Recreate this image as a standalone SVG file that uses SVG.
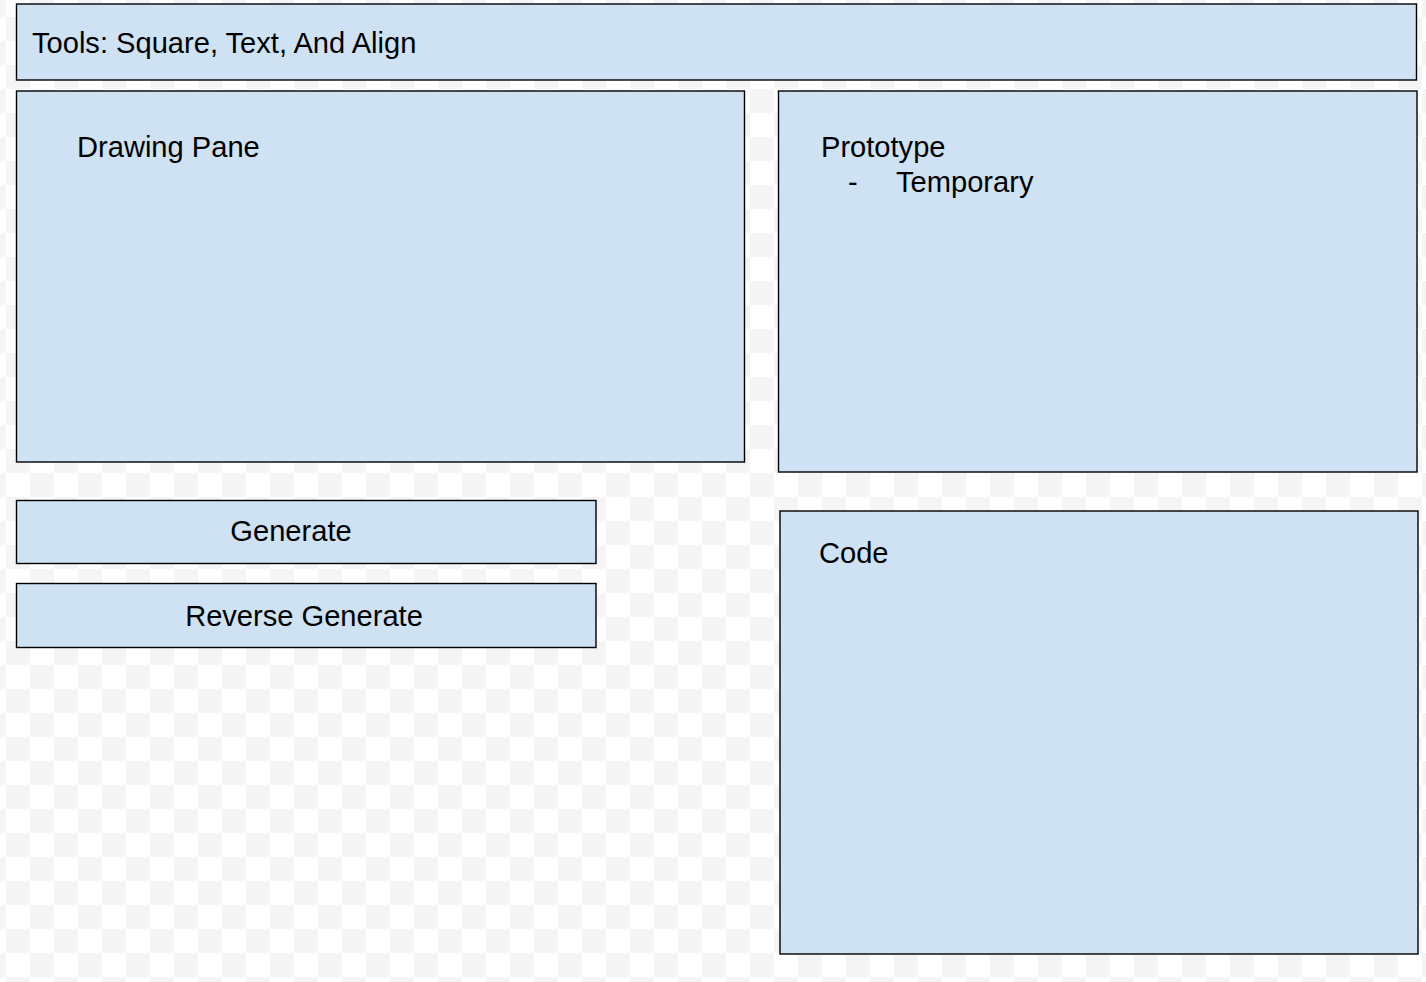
<svg xmlns="http://www.w3.org/2000/svg" width="1426" height="982" viewBox="0 0 1426 982">
  <defs>
    <pattern id="checker" x="6" y="17" width="48" height="48" patternUnits="userSpaceOnUse">
      <rect x="0" y="0" width="48" height="48" fill="#ffffff"/>
      <rect x="0" y="0" width="24" height="24" fill="#f5f5f5"/>
      <rect x="24" y="24" width="24" height="24" fill="#f5f5f5"/>
    </pattern>
  </defs>
  <style>
    .box { fill: #cfe2f3; stroke: #000000; stroke-width: 1.4; }
    .lbl { font-family: "Liberation Sans", Arial, sans-serif; font-size: 29.1px; fill: #000000; }
  </style>
  <rect x="0" y="0" width="1426" height="982" fill="url(#checker)"/>

  <g id="tools">
    <rect class="box" x="16.5" y="4" width="1400" height="76"/>
    <text class="lbl" x="32" y="53">Tools: Square, Text, And Align</text>
  </g>
  <g id="drawing-pane">
    <rect class="box" x="16.5" y="91" width="728" height="371"/>
    <text class="lbl" x="77" y="157">Drawing Pane</text>
  </g>
  <g id="prototype">
    <rect class="box" x="778.5" y="91" width="638.5" height="381"/>
    <text class="lbl" x="821" y="157">Prototype</text>
    <text class="lbl" y="192"><tspan x="848">-</tspan><tspan x="896">Temporary</tspan></text>
  </g>
  <g id="generate">
    <rect class="box" x="16.5" y="500.5" width="579.5" height="63"/>
    <text class="lbl" x="291" y="541" text-anchor="middle">Generate</text>
  </g>
  <g id="reverse-generate">
    <rect class="box" x="16.5" y="583.5" width="579.5" height="64"/>
    <text class="lbl" x="304" y="625.5" text-anchor="middle">Reverse Generate</text>
  </g>
  <g id="code">
    <rect class="box" x="780" y="511" width="638" height="443"/>
    <text class="lbl" x="819" y="563">Code</text>
  </g>
  <g id="connectors"/>
</svg>
